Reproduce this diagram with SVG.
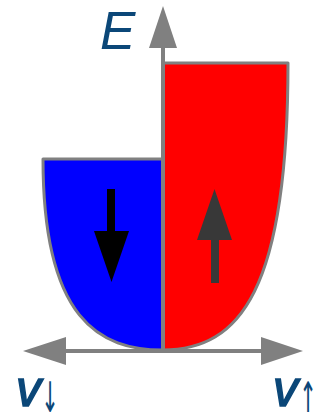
<svg xmlns="http://www.w3.org/2000/svg" width="322" height="416" viewBox="0 0 322 416">
<style>
.band{stroke:#808080;stroke-width:3;stroke-linejoin:round}
.axis{stroke:#808080;stroke-width:4;fill:none}
.ah{fill:#808080}
.lbl{font-family:"Liberation Sans",Arial,sans-serif;font-style:italic;fill:#0b4778}
.sub{font-family:"DejaVu Sans",sans-serif;fill:#0b4778;font-size:42px;text-anchor:middle}
</style>
<rect width="322" height="416" fill="#fff"/>
<g id="band-down">
<path class="band" fill="#0000ff" d="M43,159 L163,159 L163,350 C100,350 43,320 43,159 Z"/>
</g>
<g id="band-up">
<path class="band" fill="#ff0000" d="M163,63 L288,63 C288,290 240,350 163,350 Z"/>
</g>
<g id="connectors">
<line class="axis" x1="163" y1="350" x2="163" y2="44"/>
<polygon class="ah" points="163,6 149,48 177,48"/>
<line class="axis" x1="62" y1="351" x2="265" y2="351"/>
<polygon class="ah" points="23,351 66,337 66,365"/>
<polygon class="ah" points="303,351 261,337 261,365"/>
</g>
<g id="spin-down-arrow">
<rect x="107" y="189" width="8" height="44" fill="#000"/>
<polygon points="94,231 129,231 111.5,282" fill="#000"/>
</g>
<g id="spin-up-arrow">
<rect x="211" y="238" width="8" height="45" fill="#383838"/>
<polygon points="197,240 232,240 214.5,189" fill="#383838"/>
</g>
<g id="labels">
<text class="lbl" x="100" y="49" font-size="53">E</text>
<text class="lbl" x="16" y="406" font-size="50" stroke="#0b4778" stroke-width="1.5">v</text>
<text class="sub" transform="translate(50,412) scale(0.5,1)">↓</text>
<text class="lbl" x="273" y="406" font-size="50" stroke="#0b4778" stroke-width="1.5">v</text>
<text class="sub" transform="translate(308,412) scale(0.5,1)">↑</text>
</g>
</svg>
